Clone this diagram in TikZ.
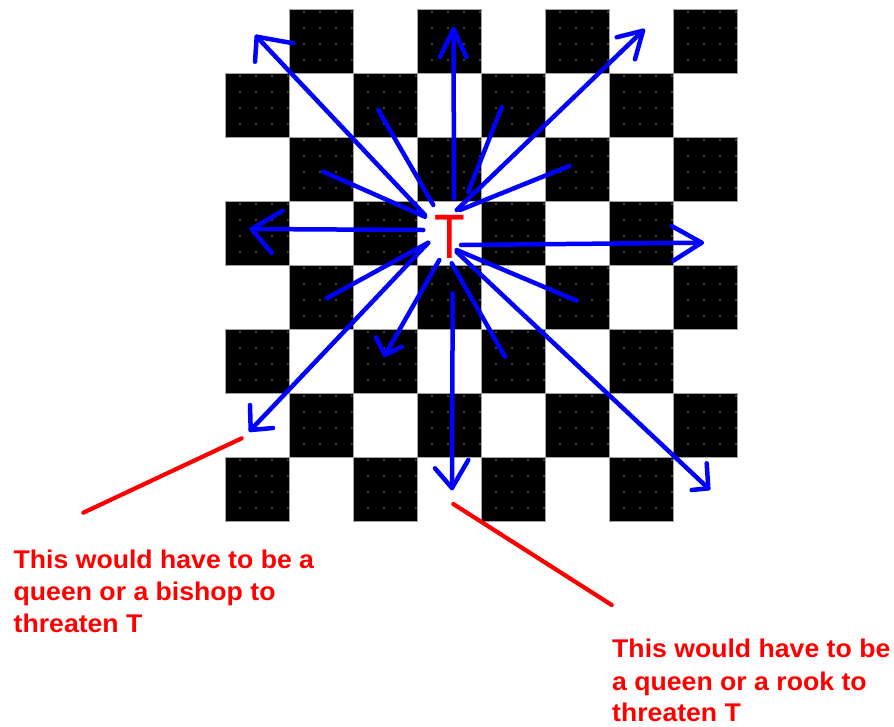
\documentclass[tikz,border=0pt]{standalone}
\usepackage{fontspec}
\setmainfont{Liberation Sans}
\definecolor{arrowblue}{RGB}{0,0,255}
\definecolor{notered}{RGB}{255,0,0}
\definecolor{dotc}{RGB}{62,62,62}
\definecolor{edgegray}{RGB}{165,165,165}
\begin{document}
\begin{tikzpicture}[x=1pt,y=-1pt,
  ray/.style={draw=arrowblue, line width=4.5pt, line cap=round, line join=round},
  pointer/.style={draw=notered, line width=4.2pt, line cap=round},
  note/.style={text=notered, font=\bfseries\fontsize{25.6}{32.4}\selectfont, inner sep=0pt, anchor=base west, xscale=1.04},
  sq/.style={fill=black, draw=edgegray, line width=0.8pt}]
\fill[white] (0,0) rectangle (894,726);
\useasboundingbox (0,0) rectangle (894,726);
% board: black squares
\path[sq] \foreach \r in {0,...,7} \foreach \k in {0,...,3} {
  ({225+64.1*(2*\k+mod(\r+1,2))},{9+64.1*\r}) rectangle ++(64.1,64.1) };
\begin{scope}
\clip \foreach \r in {0,...,7} \foreach \k in {0,...,3} {
  ({225.6+64.1*(2*\k+mod(\r+1,2))},{9.6+64.1*\r}) rectangle ++(62.9,62.9) };
\foreach \x in {224,240,...,736} \foreach \y in {12,28,...,524}
  \fill[dotc] (\x-0.55,\y-0.55) rectangle ++(1.1,1.1);
\end{scope}
% arrows with heads
\draw[ray] (425,215) -- (256.7,36.7);
\draw[ray] (293.3,43.3) -- (256.7,36.7) -- (255,61.7);
\draw[ray] (454,198.3) -- (453.5,29);
\draw[ray] (440,57) -- (453.5,29) -- (466.5,57);
\draw[ray] (456.7,210) -- (643,30.7);
\draw[ray] (616.7,37.3) -- (643,30.7) -- (635,59.3);
\draw[ray] (461,245) -- (701.7,242.7);
\draw[ray] (671.7,226) -- (701.7,242.7) -- (673.3,260.7);
\draw[ray] (423.3,230) -- (251.7,229);
\draw[ray] (282.7,210.7) -- (251.7,229) -- (271.7,253);
\draw[ray] (428,243) -- (250.7,430);
\draw[ray] (250,405) -- (250.7,430) -- (273,428);
\draw[ray] (439.3,260) -- (385,355);
\draw[ray] (376,337.3) -- (385,355) -- (401.7,346.7);
\draw[ray] (452.7,293.3) -- (452,488);
\draw[ray] (435,468.3) -- (452,488) -- (468.3,460);
\draw[ray] (456.7,252) -- (708.3,488.3);
\draw[ray] (706.7,463.3) -- (708.3,488.3) -- (691.7,490);
% short rays
\draw[ray] (433.3,205) -- (378.3,110);
\draw[ray] (425,216.7) -- (323.3,171.7);
\draw[ray] (468.3,191.7) -- (501.7,107.3);
\draw[ray] (460,210) -- (569.3,166);
\draw[ray] (428.3,242.7) -- (326.7,298.3);
\draw[ray] (451.7,263.3) -- (505,356.7);
\draw[ray] (456.7,250) -- (576.7,300.7);
% the T
\node[font=\fontsize{62.8}{62.8}\selectfont, text=notered, inner sep=0pt, anchor=base, xscale=0.8] (T) at (450.3,258) {T};
% red pointers
\draw[pointer] (83.3,512.7) -- (241.7,438.3);
\draw[pointer] (453.3,504) -- (611.7,605);
% notes
\node[note] (n1a) at (13.5,568.3) {This would have to be a};
\node[note] (n1b) at (13.5,600.6) {queen or a bishop to};
\node[note] (n1c) at (13.5,632.9) {threaten T};
\node[note] (n2a) at (612,657.8) {This would have to be};
\node[note] (n2b) at (612,690.0) {a queen or a rook to};
\node[note] (n2c) at (612,721.8) {threaten T};
\end{tikzpicture}
\end{document}
